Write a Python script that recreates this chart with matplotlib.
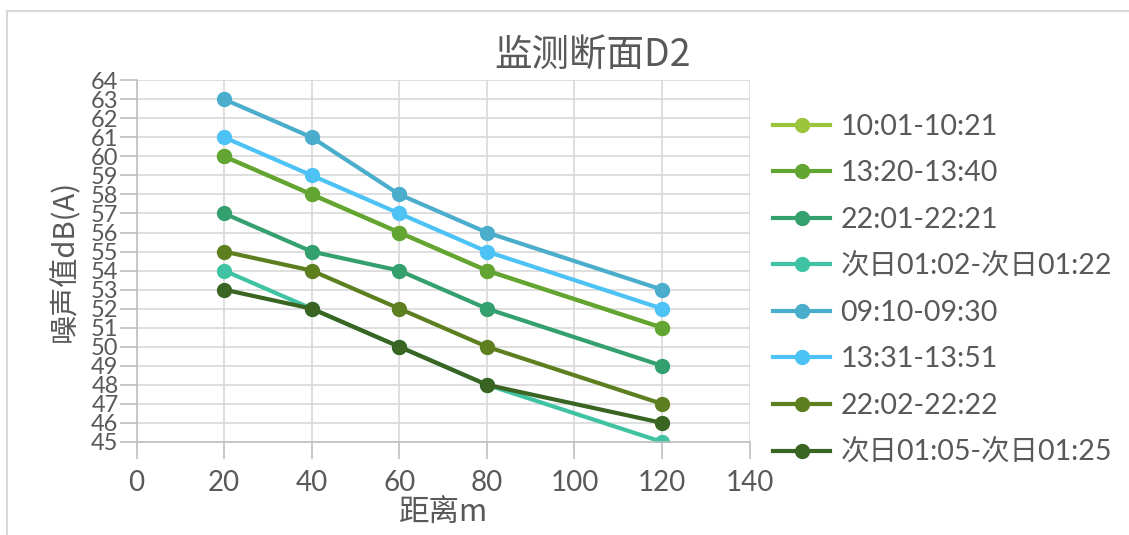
import matplotlib.pyplot as plt
from matplotlib.patches import Rectangle

plt.rcParams['font.family'] = ['Lato', 'Noto Sans CJK SC', 'DejaVu Sans']

x = [20, 40, 60, 80, 120]
labels = ['10:01-10:21', '13:20-13:40', '22:01-22:21', '次日01:02-次日01:22',
          '09:10-09:30', '13:31-13:51', '22:02-22:22', '次日01:05-次日01:25']
s1 = [60, 58, 56, 54, 51]
s2 = [60, 58, 56, 54, 51]
s3 = [57, 55, 54, 52, 49]
s4 = [54, 52, 50, 48, 45]
s5 = [63, 61, 58, 56, 53]
s6 = [61, 59, 57, 55, 52]
s7 = [55, 54, 52, 50, 47]
s8 = [53, 52, 50, 48, 46]
series = [s1, s2, s3, s4, s5, s6, s7, s8]
colors = ['#9bc53d', '#63a532', '#33a06d', '#40c3a2',
          '#4aadcc', '#4cc2f5', '#5e7f1f', '#3a6422']

grey = '#595959'
cjk = ['Noto Sans CJK SC', 'DejaVu Sans']
fig = plt.figure(figsize=(11.29, 5.35), dpi=100)
ax = fig.add_axes([0.121, 0.174, 0.543, 0.676])

for ys, c, lab in zip(series, colors, labels):
    ax.plot(x, ys, color=c, lw=3, marker='o', ms=10, label=lab)

ax.set_xlim(0, 140)
ax.set_ylim(45, 64)
ax.set_xticks(range(0, 141, 20))
ax.set_yticks(range(45, 65))
ax.grid(True, color='#d9d9d9', lw=1.2)
ax.set_axisbelow(True)
for sp in ['top', 'right']:
    ax.spines[sp].set_visible(False)
for sp in ['left', 'bottom']:
    ax.spines[sp].set_color('#bfbfbf')
    ax.spines[sp].set_linewidth(1.2)
ax.tick_params(axis='both', colors='#bfbfbf', labelcolor=grey,
               length=12, width=1.2)
ax.tick_params(axis='x', pad=8, labelsize=20)
ax.tick_params(axis='y', pad=1, labelsize=17)

fig.text(0.525, 0.897, '监测断面D2', fontsize=27, color=grey,
         ha='center', va='center', family=cjk)
ax.set_xlabel('距离m', fontsize=22, color=grey, labelpad=1, family=cjk)
ax.set_ylabel('噪声值dB(A)', fontsize=21, color=grey, labelpad=8, family=cjk)

leg = fig.legend(loc='upper left', bbox_to_anchor=(0.675, 0.809), frameon=False,
                 fontsize=20.5, labelcolor=grey, handlelength=2.0, labelspacing=0.72,
                 handletextpad=0.35, borderaxespad=0)
for h in leg.legend_handles:
    h.set_markersize(10)

fig.patches.append(Rectangle((0.006, -0.1), 1.2, 1.08, transform=fig.transFigure,
                             fill=False, edgecolor='#d9d9d9', lw=1.5))

fig.savefig('out.png', dpi=100)
